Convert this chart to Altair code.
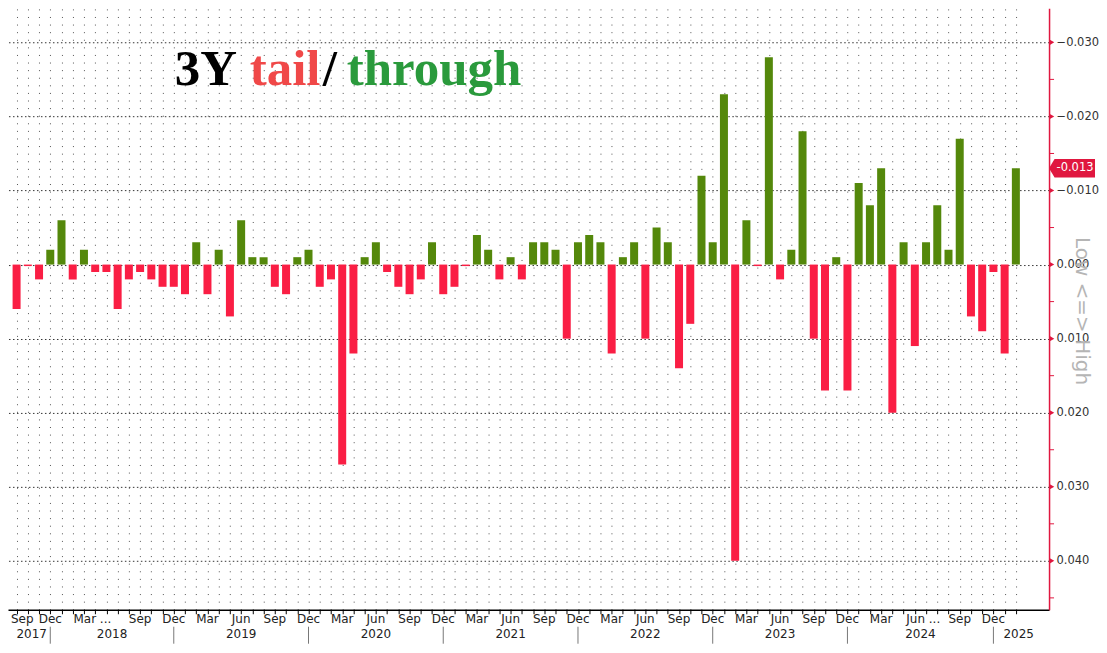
import altair as alt
import pandas as pd

# ---------------- data ----------------
values = [
    0.006, 0.0002, 0.002, -0.002, -0.006, 0.002, -0.002, 0.001, 0.001, 0.006,
    0.002, 0.001, 0.002, 0.003, 0.003, 0.004, -0.003, 0.004, -0.002, 0.007,
    -0.006, -0.001, -0.001, 0.003, 0.004, -0.001, -0.002, 0.003, 0.002, 0.027,
    0.012, -0.001, -0.003, 0.001, 0.003, 0.004, 0.002, -0.003, 0.004, 0.003,
    0.0002, -0.004, -0.002, 0.002, -0.001, 0.002, -0.003, -0.003, -0.002, 0.010,
    -0.003, -0.004, -0.003, 0.012, -0.001, -0.003, 0.010, -0.005, -0.003, 0.014,
    0.008, -0.012, -0.003, -0.023, 0.040, -0.006, 0.0002, -0.028, 0.002, -0.002,
    -0.018, 0.010, 0.017, -0.001, 0.017, -0.011, -0.008, -0.013, 0.020, -0.003,
    0.011, -0.003, -0.008, -0.002, -0.017, 0.007, 0.009, 0.001, 0.012, -0.013,
]

dates = (
    ["2017-09", "2017-10", "2017-11", "2017-12",
     "2018-01", "2018-02", "2018-03", "2018-04", "2018-05", "2018-07", "2018-08",
     "2018-09", "2018-10", "2018-11", "2018-12"]
    + [f"{y}-{m:02d}" for y in range(2019, 2024) for m in range(1, 13)]
    + ["2024-01", "2024-02", "2024-03", "2024-04", "2024-05", "2024-06",
       "2024-07", "2024-08", "2024-08", "2024-09", "2024-10", "2024-11", "2024-12",
       "2025-01", "2025-02"]
)
ellipsis_months = ["2018-03", "2024-06"]
month_abbr = {3: "Mar", 6: "Jun", 9: "Sep", 12: "Dec"}
years = ["2017", "2018", "2019", "2020", "2021", "2022", "2023", "2024", "2025"]
y_major = [-0.03, -0.02, -0.01, 0.0, 0.01, 0.02, 0.03, 0.04]
y_minor = [-0.025, -0.015, -0.005, 0.005, 0.015, 0.025, 0.035, 0.045]

# ---------------- layout / style ----------------
W, H = 1042, 602
XDOM = [-0.32, 91.51]
YDOM = [-0.0346, 0.0466]
RED_BAR = "#fa1e44"
GREEN_BAR = "#54880b"
AXIS_RED = "#e0173f"
FONT = "DejaVu Sans"

xs = alt.Scale(domain=XDOM, nice=False, zero=False)
ys = alt.Scale(domain=YDOM, reverse=True, nice=False, zero=False)

n = len(values)

X_AXIS = alt.Axis(
    values=list(range(n)), labels=False, grid=True, gridDash=[1, 6.6],
    gridColor="#555555", gridWidth=1, domainColor="#000000", domainWidth=1.5,
    tickColor="#000000", tickSize=4, title=None)
Y_AXIS = alt.Axis(
    orient="right", values=y_major, format=".3f", grid=True, gridDash=[1.5, 2.5],
    gridColor="#333333", gridWidth=1, domainColor=AXIS_RED, domainWidth=1.5,
    tickSize=0, labelPadding=7, labelFont=FONT, labelFontSize=11.5,
    labelColor="#333333", title=None)

df = pd.DataFrame({"idx": list(range(n)), "value": values, "date": dates})
df["kind"] = ["tail" if v > 0 else "through" for v in values]

# month tick labels
m_rows = []
for i, d in enumerate(dates):
    m = int(d[5:])
    if m in month_abbr and (i == 0 or dates[i - 1] != d):
        txt = month_abbr[m]
        lx = float(i)
        if d in ellipsis_months:
            txt += " ..."
            lx += 0.75
        if i == 0:
            lx = 0.5
        m_rows.append({"idx": lx, "t": txt})
df_m = pd.DataFrame(m_rows)

# year separators (at December) and year labels centred between them
sep_idx = [i for i, d in enumerate(dates) if d.endswith("-12") and (i == 0 or dates[i - 1] != d)]
bounds = [XDOM[0]] + sep_idx + [XDOM[1]]
yx = [(bounds[k] + bounds[k + 1]) / 2 for k in range(len(years))]
yx[0] = max(yx[0], 1.05)
df_y = pd.DataFrame({"idx": yx, "t": years})
df_s = pd.DataFrame({"idx": sep_idx})

# ---------------- layers ----------------
bars = alt.Chart(df).mark_bar(size=8, clip=True).encode(
    x=alt.X("idx:Q", scale=xs, axis=X_AXIS),
    y=alt.Y("value:Q", scale=ys, axis=Y_AXIS),
    y2=alt.datum(0),
    color=alt.Color("kind:N", scale=alt.Scale(domain=["tail", "through"],
                                               range=[RED_BAR, GREEN_BAR]), legend=None),
)

tri = alt.Chart(pd.DataFrame({"value": y_major})).mark_point(
    shape="triangle-right", filled=True, size=26, color=AXIS_RED, opacity=1
).encode(x=alt.value(W + 3), y=alt.Y("value:Q", scale=ys, axis=Y_AXIS))

minor = alt.Chart(pd.DataFrame({"value": y_minor})).mark_rule(color=AXIS_RED).encode(
    x=alt.value(W), x2=alt.value(W + 5), y=alt.Y("value:Q", scale=ys, axis=Y_AXIS))

last = pd.DataFrame({"value": [values[-1]], "lab": [f"{values[-1]:.3f}"]})
tag_path = "M-1,0L-0.76,-0.4L1,-0.4L1,0.4L-0.76,0.4Z"
tag = alt.Chart(last).mark_point(
    shape=tag_path, filled=True, size=46 * 46, color=AXIS_RED, opacity=1, strokeWidth=0
).encode(x=alt.value(W + 23), y=alt.Y("value:Q", scale=ys, axis=Y_AXIS))
tag_txt = alt.Chart(last).mark_text(
    color="white", font=FONT, fontSize=11.5, align="center", baseline="middle"
).encode(x=alt.value(W + 26), y=alt.Y("value:Q", scale=ys, axis=Y_AXIS), text="lab:N")

low_high = alt.Chart(pd.DataFrame({"t": ["Low <=> High"]})).mark_text(
    angle=90, font=FONT, fontSize=20, color="#b5b5b5", align="center", baseline="middle"
).encode(x=alt.value(W + 33), y=alt.value(303), text="t:N")

months = alt.Chart(df_m).mark_text(
    baseline="top", align="center", font=FONT, fontSize=12, color="#222222"
).encode(x=alt.X("idx:Q", scale=xs, axis=X_AXIS), y=alt.value(H + 4), text="t:N")

yearlab = alt.Chart(df_y).mark_text(
    baseline="top", align="center", font=FONT, fontSize=12, color="#222222"
).encode(x=alt.X("idx:Q", scale=xs, axis=X_AXIS), y=alt.value(H + 19), text="t:N")

seps = alt.Chart(df_s).mark_rule(color="#777777").encode(
    x=alt.X("idx:Q", scale=xs, axis=X_AXIS), y=alt.value(H + 17), y2=alt.value(H + 34))

# title "3Y tail/through" in several colours
title_parts = [("3Y", "#000000", 167), ("tail", "#f04848", 242),
               ("/", "#000000", 315), ("through", "#2a9a3c", 339)]
title_layers = []
one = pd.DataFrame({"k": [0]})
for txt, col, px in title_parts:
    title_layers.append(alt.Chart(one).mark_text(
        text=txt, font="Liberation Serif", fontWeight="bold", fontSize=51,
        color=col, align="left", baseline="alphabetic"
    ).encode(x=alt.value(px), y=alt.value(77)))

chart = alt.layer(
    bars, minor, tri, tag, tag_txt, low_high, months, yearlab, seps, *title_layers
).properties(
    width=W, height=H, padding={"left": 0, "top": 0, "right": 0, "bottom": 0},
    background="white"
).configure_view(stroke=None)

chart.save("out.html", embed_options={"renderer": "svg", "actions": False})
